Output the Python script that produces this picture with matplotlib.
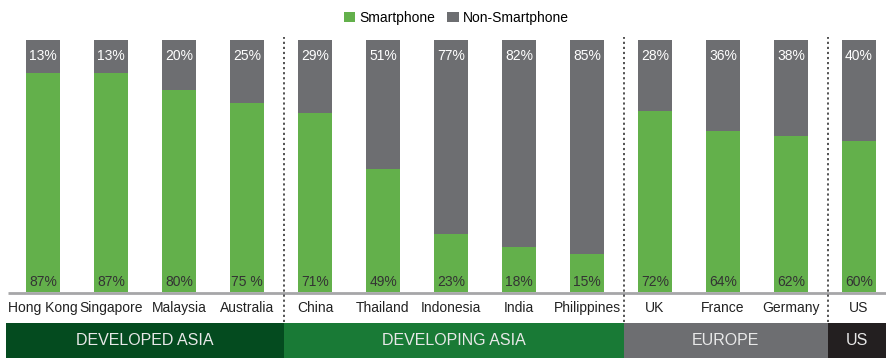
import matplotlib.pyplot as plt
from matplotlib.patches import Rectangle

plt.rcParams['font.family'] = ['Liberation Sans', 'DejaVu Sans']

countries = ['Hong Kong', 'Singapore', 'Malaysia', 'Australia', 'China', 'Thailand',
             'Indonesia', 'India', 'Philippines', 'UK', 'France', 'Germany', 'US']
smartphone = [87, 87, 80, 75, 71, 49, 23, 18, 15, 72, 64, 62, 60]
non_smartphone = [13, 13, 20, 25, 29, 51, 77, 82, 85, 28, 36, 38, 40]
smart_labels = ['87%', '87%', '80%', '75 %', '71%', '49%', '23%', '18%', '15%',
                '72%', '64%', '62%', '60%']
regions = ['DEVELOPED ASIA', 'DEVELOPING ASIA', 'EUROPE', 'US']
region_sizes = [4, 5, 3, 1]
region_colors = ['#044b1f', '#197a36', '#6d6e71', '#231f20']

green = '#63b04b'
gray = '#6d6e71'

W, H = 886, 358
fig = plt.figure(figsize=(W / 100, H / 100), dpi=100)

x0 = -43 / 68
x1 = (W - 43) / 68

# main bar area
ax = fig.add_axes([0, (H - 292) / H, 1, 252 / H])
x = list(range(len(countries)))
ax.bar(x, smartphone, width=0.51, color=green, label='Smartphone')
ax.bar(x, non_smartphone, width=0.51, bottom=smartphone, color=gray, label='Non-Smartphone')
ax.set_xlim(x0, x1)
ax.set_ylim(0, 100)
ax.axis('off')

for i in x:
    ax.text(i, 93.5, f'{non_smartphone[i]}%', ha='center', va='center',
            color='white', fontsize=10)
    ax.text(i, 4, smart_labels[i], ha='center', va='center',
            color='#333333', fontsize=10)
    ax.text(i, -6.3, countries[i], ha='center', va='center',
            color='#222222', fontsize=10, clip_on=False)

ax.plot([-0.515, x1], [-0.4, -0.4], color='#a6a6a8', lw=2, clip_on=False,
        solid_capstyle='butt')

# dotted separators between regions
bounds = []
pos = -0.5
for n in region_sizes:
    pos += n
    bounds.append(pos)
for b in bounds[:-1]:
    ax.axvline(b + 0.04, ymin=-0.12, ymax=1.01, color='#444444', lw=1.3,
               linestyle=(0, (1.2, 1.6)), clip_on=False)

# region bands
bx = fig.add_axes([0, 0, 1, 35 / H])
bx.set_xlim(x0, x1)
bx.set_ylim(0, 1)
bx.axis('off')
left = -0.545
for name, n, c in zip(regions, region_sizes, region_colors):
    right = left + n if name != 'US' else x1
    if name == 'DEVELOPED ASIA':
        right = 3.54
    bx.add_patch(Rectangle((left, 0), right - left, 1, color=c, lw=0))
    bx.text((left + right) / 2, 0.5, name, ha='center', va='center',
            color='#e8e8e8', fontsize=11.5)
    left = right

fig.legend(loc='upper center', bbox_to_anchor=(0.515, 1.005), ncol=2, frameon=False,
           fontsize=10, handlelength=0.8, handleheight=0.8, handletextpad=0.3,
           columnspacing=0.9)

fig.savefig('out.png', dpi=100)
